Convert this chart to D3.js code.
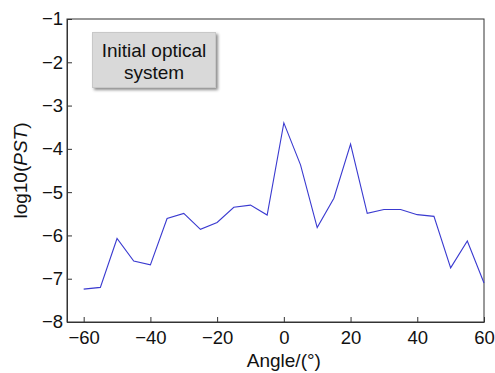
<!DOCTYPE html>
<html>
<head>
<meta charset="utf-8">
<script src="https://cdn.jsdelivr.net/npm/d3@7"></script>
<style>
  body { margin: 0; background: #fff; }
  text { font-family: "Liberation Sans", Arial, sans-serif; fill: #111; }
</style>
</head>
<body>
<div id="chart"></div>
<script>
const angles = [-60, -55, -50, -45, -40, -35, -30, -25, -20, -15, -10, -5, 0, 5, 10, 15, 20, 25, 30, 35, 40, 45, 50, 55, 60]
const logPST = [-7.24, -7.20, -6.07, -6.59, -6.68, -5.61, -5.49, -5.86, -5.70, -5.35, -5.30, -5.53, -3.4,
                -4.37, -5.82, -5.14, -3.89, -5.49, -5.40, -5.40, -5.52, -5.56, -6.75, -6.13, -7.10]
const xTicks = [-60, -40, -20, 0, 20, 40, 60]
const yTicks = [-8, -7, -6, -5, -4, -3, -2, -1]
const legendLines = ["Initial optical", "system"]

const W = 495, H = 373
const margin = {top: 19, right: 11, bottom: 51, left: 67}
const width = W - margin.left - margin.right,
      height = H - margin.top - margin.bottom

const svg = d3.select("#chart").append("svg")
    .attr("width", W).attr("height", H)

const defs = svg.append("defs")
const f = defs.append("filter").attr("id", "shadow")
    .attr("x", "-20%").attr("y", "-20%").attr("width", "140%").attr("height", "140%")
f.append("feDropShadow").attr("dx", 2).attr("dy", 2).attr("stdDeviation", 1.5)
    .attr("flood-color", "#000").attr("flood-opacity", 0.45)

const g = svg.append("g")
    .attr("transform", "translate(" + margin.left + "," + margin.top + ")")

let x = d3.scaleLinear().domain([-65, 60]).range([0, width])
let y = d3.scaleLinear().domain([-8, -1]).range([height, 0])

// frame
g.append("rect")
    .attr("width", width).attr("height", height)
    .attr("fill", "none").attr("stroke", "#333").attr("stroke-width", 1)

const minus = d => d3.format("")(d).replace("-", "\u2212")
const xAxis = g.append("g")
    .attr("transform", "translate(0," + height + ")")
    .call(d3.axisBottom(x).tickValues(xTicks).tickFormat(minus)
        .tickSizeInner(-5).tickSizeOuter(0).tickPadding(9))
const yAxis = g.append("g")
    .call(d3.axisLeft(y).tickValues(yTicks).tickFormat(minus)
        .tickSizeInner(-5).tickSizeOuter(0).tickPadding(4))

for (const ax of [xAxis, yAxis]) {
    ax.select(".domain").attr("stroke", "#333")
    ax.selectAll(".tick line").attr("stroke", "#333")
    ax.selectAll(".tick text").attr("font-size", 18.5).attr("fill", "#111")
        .attr("font-family", "Liberation Sans, Arial, sans-serif")
}

g.append("path")
    .datum(angles.map((a, i) => ({a: a, v: logPST[i]})))
    .attr("fill", "none")
    .attr("stroke", "#3a3ad0")
    .attr("stroke-width", 1.1)
    .attr("d", d3.line().x(d => x(d.a)).y(d => y(d.v)))

// legend box
const lg = g.append("g").attr("transform", "translate(25.5,13.5)")
lg.append("rect")
    .attr("width", 123).attr("height", 55)
    .attr("fill", "#d9d9d9").attr("stroke", "#c8c8c8")
    .attr("filter", "url(#shadow)")
lg.selectAll("text.leg").data(legendLines).enter().append("text")
    .attr("class", "leg")
    .attr("x", 61.5).attr("y", (d, i) => 24 + i * 22)
    .attr("text-anchor", "middle").attr("font-size", 19)
    .text(d => d)

// axis titles
svg.append("text")
    .attr("x", margin.left + x(0)).attr("y", 367)
    .attr("text-anchor", "middle").attr("font-size", 19)
    .text("Angle/(°)")

const yl = svg.append("text")
    .attr("transform", "translate(27," + (margin.top + height / 2) + ") rotate(-90)")
    .attr("text-anchor", "middle").attr("font-size", 19)
yl.append("tspan").text("log10(")
yl.append("tspan").attr("font-style", "italic").text("PST")
yl.append("tspan").text(")")
</script>
</body>
</html>
